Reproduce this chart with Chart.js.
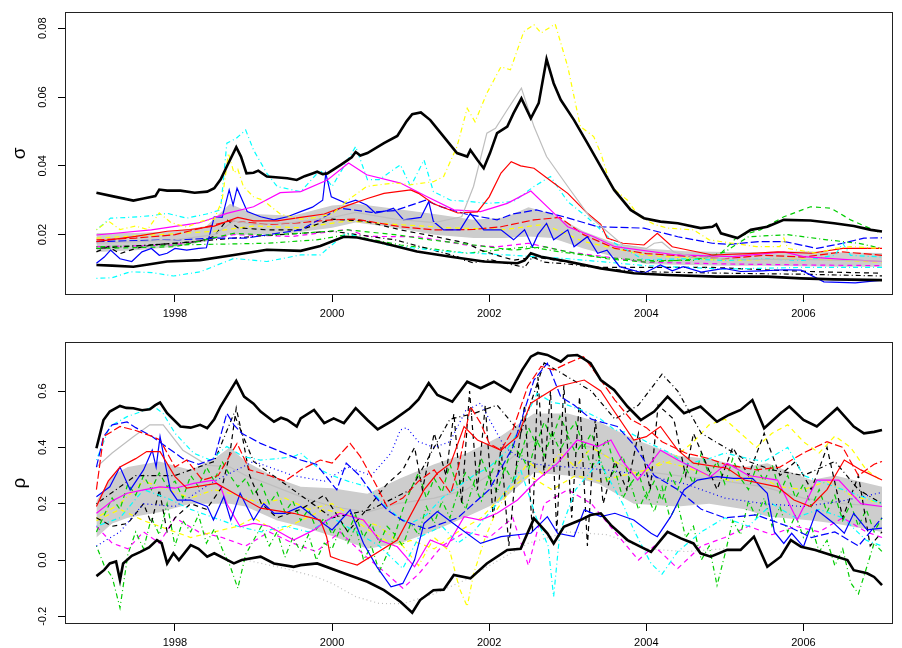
<!DOCTYPE html>
<html>
<head>
<meta charset="utf-8">
<script src="https://cdn.jsdelivr.net/npm/chart.js@4.4.1/dist/chart.umd.min.js"></script>
<style>
  body { margin: 0; background: #fff; }
  .panel { position: absolute; left: 0; width: 902px; height: 324px; }
</style>
</head>
<body>
<div class="panel" style="top:0"><canvas id="sigma" width="902" height="324"></canvas></div>
<div class="panel" style="top:324px"><canvas id="rho" width="902" height="324"></canvas></div>
<script>
// ---- axes ----
const yearTicks = [1998, 2000, 2002, 2004, 2006];
const sigmaTicks = [0.02, 0.04, 0.06, 0.08];
const sigmaTickLabels = ['0.02', '0.04', '0.06', '0.08'];
const rhoTicks = [-0.2, 0, 0.2, 0.4, 0.6];
const rhoTickLabels = ['-0.2', '0.0', '0.2', '0.4', '0.6'];

// ---- top panel: sigma, [year, value] ----
const sigHi = [[1997.0,.0322],[1997.2,.0312],[1997.47,.0299],[1997.6,.0305],[1997.75,.0312],[1997.8,.0331],[1997.9,.0328],[1998.07,.0328],[1998.25,.0322],[1998.41,.0325],[1998.5,.0335],[1998.58,.0360],[1998.66,.0398],[1998.78,.0454],[1998.84,.0427],[1998.91,.0378],[1999.0,.0380],[1999.06,.0386],[1999.17,.0369],[1999.43,.0364],[1999.55,.0359],[1999.65,.0370],[1999.75,.0378],[1999.81,.0383],[1999.88,.0376],[1999.94,.0378],[2000.11,.0403],[2000.25,.0425],[2000.30,.0440],[2000.36,.0430],[2000.45,.0437],[2000.66,.0466],[2000.83,.0487],[2000.95,.0530],[2001.02,.0550],[2001.13,.0555],[2001.25,.0533],[2001.42,.0485],[2001.59,.0437],[2001.72,.0427],[2001.76,.0446],[2001.85,.0417],[2001.93,.0393],[2002.01,.0437],[2002.10,.0495],[2002.23,.0514],[2002.31,.0553],[2002.41,.0596],[2002.53,.0538],[2002.63,.0582],[2002.73,.0710],[2002.82,.0640],[2002.91,.0592],[2003.08,.0533],[2003.25,.0466],[2003.42,.0398],[2003.59,.0330],[2003.80,.0272],[2003.97,.0248],[2004.18,.0238],[2004.40,.0233],[2004.69,.0219],[2004.84,.0223],[2004.89,.0230],[2004.95,.0204],[2005.16,.0190],[2005.33,.0214],[2005.54,.0223],[2005.75,.0243],[2006.09,.0241],[2006.39,.0233],[2006.64,.0225],[2006.86,.0214],[2007.0,.0209]];
const sigLo = [[1997.0,.0112],[1997.2,.0110],[1997.47,.0107],[1997.7,.0115],[1997.9,.0122],[1998.32,.0126],[1998.75,.0141],[1999.17,.0156],[1999.6,.0153],[1999.85,.0167],[2000.15,.0194],[2000.32,.0192],[2000.66,.0175],[2001.08,.0151],[2001.51,.0136],[2001.93,.0122],[2002.36,.0117],[2002.45,.0125],[2002.53,.0146],[2002.66,.0136],[2003.0,.0122],[2003.42,.0102],[2003.84,.0088],[2004.27,.0083],[2004.9,.0078],[2005.54,.0078],[2005.97,.0073],[2006.39,.0070],[2007.0,.0068]];
const sigBandYears = [1997.0,1997.5,1998.0,1998.4,1998.7,1999.0,1999.5,2000.0,2000.3,2000.8,2001.3,2001.8,2002.2,2002.5,2002.8,2003.2,2003.6,2004.0,2004.5,2005.0,2005.5,2006.0,2006.5,2007.0];
const sigBandLo = [.0150,.0155,.0165,.0180,.0200,.0200,.0205,.0220,.0235,.0220,.0200,.0190,.0190,.0195,.0190,.0160,.0135,.0115,.0112,.0110,.0110,.0108,.0107,.0107];
const sigBandHi = [.0205,.0205,.0210,.0225,.0290,.0260,.0255,.0285,.0290,.0275,.0260,.0243,.0250,.0280,.0260,.0210,.0175,.0160,.0152,.0150,.0150,.0152,.0148,.0147];
const sigGray = [[1997.0,.0175],[1997.5,.0180],[1998.0,.0185],[1998.5,.0200],[1998.75,.0240],[1999.0,.0230],[1999.5,.0235],[2000.0,.0250],[2000.3,.0265],[2000.8,.0245],[2001.3,.0235],[2001.65,.0252],[2001.8,.0340],[2001.97,.0495],[2002.08,.0509],[2002.23,.0563],[2002.41,.0626],[2002.57,.0514],[2002.73,.0427],[2003.0,.0340],[2003.28,.0252],[2003.42,.0225],[2003.7,.0170],[2004.0,.0160],[2004.1,.0175],[2004.2,.0178],[2004.35,.0150],[2004.6,.0135],[2005.0,.0130],[2005.5,.0128],[2006.0,.0128],[2006.5,.0125],[2007.0,.0123]];
const sigYellow = [[1997.0,.0214],[1997.15,.0240],[1997.3,.0215],[1997.5,.0225],[1997.65,.0215],[1997.8,.0263],[1997.95,.0235],[1998.15,.0222],[1998.35,.0240],[1998.5,.0245],[1998.6,.0300],[1998.68,.0437],[1998.75,.0380],[1998.8,.0390],[1998.87,.0340],[1999.0,.0310],[1999.12,.0300],[1999.34,.0260],[1999.6,.0245],[1999.8,.0250],[2000.0,.0260],[2000.2,.0300],[2000.44,.0340],[2000.6,.0345],[2000.8,.0350],[2001.0,.0345],[2001.29,.0354],[2001.42,.0369],[2001.59,.0456],[2001.72,.0567],[2001.82,.0528],[2001.97,.0611],[2002.15,.0688],[2002.27,.0679],[2002.44,.0790],[2002.57,.0810],[2002.66,.0786],[2002.84,.0812],[2003.0,.0688],[2003.16,.0514],[2003.33,.0485],[2003.42,.0437],[2003.55,.0340],[2003.76,.0300],[2003.9,.0255],[2004.1,.0230],[2004.27,.0219],[2004.6,.0214],[2004.8,.0185],[2005.1,.0175],[2005.4,.0165],[2005.7,.0165],[2005.75,.0190],[2005.8,.0160],[2006.17,.0146],[2006.4,.0160],[2006.6,.0165],[2007.0,.0160]];
const sigRed = [[1997.0,.0180],[1997.5,.0195],[1997.9,.0210],[1998.2,.0215],[1998.5,.0225],[1998.8,.0250],[1999.0,.0240],[1999.3,.0240],[1999.6,.0250],[1999.9,.0260],[2000.2,.0285],[2000.45,.0305],[2000.66,.0320],[2001.0,.0330],[2001.1,.0320],[2001.29,.0290],[2001.6,.0263],[2001.85,.0266],[2002.0,.0310],[2002.15,.0379],[2002.28,.0412],[2002.4,.0400],[2002.57,.0393],[2002.82,.0350],[2003.0,.0320],[2003.25,.0262],[2003.42,.0230],[2003.5,.0190],[2003.7,.0175],[2003.97,.0170],[2004.14,.0204],[2004.33,.0165],[2004.84,.0141],[2005.3,.0145],[2005.67,.0150],[2006.1,.0146],[2006.5,.0160],[2007.0,.0160]];
const sigMagenta = [[1997.0,.0199],[1997.7,.0214],[1998.3,.0234],[1998.66,.0262],[1999.0,.0281],[1999.34,.0322],[1999.6,.0325],[1999.94,.0359],[2000.21,.0408],[2000.44,.0374],[2000.87,.0350],[2001.21,.0310],[2001.55,.0272],[2001.89,.0267],[2002.23,.0291],[2002.53,.0327],[2002.78,.0272],[2003.0,.0223],[2003.33,.0194],[2003.6,.0165],[2004.39,.0141],[2005.1,.0136],[2005.75,.0150],[2006.0,.0136],[2006.5,.0128],[2007.0,.0122]];
const sigBlue = [[1997.0,.0117],[1997.1,.0135],[1997.18,.0155],[1997.3,.0130],[1997.45,.0122],[1997.58,.0150],[1997.7,.0160],[1997.8,.0140],[1997.9,.0146],[1998.0,.0160],[1998.15,.0155],[1998.3,.0160],[1998.4,.0162],[1998.5,.0252],[1998.6,.0250],[1998.69,.0330],[1998.74,.0286],[1998.79,.0335],[1998.92,.0267],[1999.09,.0252],[1999.26,.0243],[1999.43,.0252],[1999.6,.0267],[1999.75,.0280],[1999.88,.0300],[1999.92,.0378],[1999.99,.0310],[2000.18,.0291],[2000.3,.0300],[2000.44,.0286],[2000.55,.0263],[2000.7,.0270],[2000.78,.0277],[2000.91,.0243],[2001.13,.0250],[2001.23,.0296],[2001.29,.0238],[2001.42,.0214],[2001.63,.0214],[2001.76,.0262],[2001.93,.0214],[2002.15,.0214],[2002.31,.0185],[2002.45,.0214],[2002.55,.0165],[2002.62,.0200],[2002.73,.0233],[2002.82,.0185],[2003.0,.0214],[2003.08,.0165],[2003.25,.0194],[2003.38,.0146],[2003.5,.0155],[2003.66,.0107],[2003.97,.0088],[2004.18,.0112],[2004.33,.0095],[2004.47,.0107],[2004.7,.0091],[2004.99,.0102],[2005.2,.0093],[2005.47,.0095],[2005.76,.0098],[2005.97,.0097],[2006.26,.0063],[2006.66,.0060],[2007.0,.0068]];
const sigCyanHi = [[1997.0,.0214],[1997.18,.0248],[1997.4,.0250],[1997.7,.0255],[1997.9,.0262],[1998.15,.0248],[1998.4,.0260],[1998.58,.0272],[1998.66,.0466],[1998.78,.0480],[1998.9,.0504],[1999.0,.0446],[1999.17,.0378],[1999.3,.0340],[1999.5,.0330],[1999.6,.0325],[1999.85,.0388],[2000.0,.0340],[2000.3,.0456],[2000.45,.0360],[2000.6,.0360],[2000.87,.0403],[2001.0,.0340],[2001.17,.0417],[2001.29,.0325],[2001.51,.0300],[2001.72,.0297],[2001.97,.0291],[2002.31,.0296],[2002.57,.0340],[2002.78,.0369],[2003.0,.0296],[2003.25,.0250],[2003.42,.0214],[2003.6,.0175],[2003.97,.0127],[2004.5,.0130],[2005.0,.0125],[2005.5,.0130],[2006.0,.0125],[2006.4,.0140],[2006.5,.0175],[2006.6,.0140],[2007.0,.0135]];
const sigCyanLo = [[1997.0,.0073],[1997.2,.0075],[1997.43,.0092],[1997.7,.0090],[1997.98,.0080],[1998.32,.0092],[1998.75,.0131],[1999.17,.0122],[1999.6,.0141],[1999.85,.0141],[1999.97,.0165],[2000.18,.0204],[2000.7,.0170],[2001.5,.0150],[2002.3,.0140],[2003.0,.0130],[2004.0,.0110],[2005.0,.0100],[2006.0,.0105],[2007.0,.0105]];
const sigGreenDash = [[1997.0,.0160],[1998.0,.0165],[1998.75,.0204],[1999.17,.0199],[1999.6,.0204],[2000.2,.0214],[2000.8,.0200],[2001.25,.0185],[2001.8,.0170],[2002.31,.0155],[2002.7,.0165],[2003.0,.0150],[2003.5,.0130],[2004.0,.0120],[2004.7,.0130],[2004.95,.0146],[2005.16,.0194],[2005.45,.0214],[2005.75,.0252],[2006.09,.0281],[2006.35,.0277],[2006.6,.0243],[2006.94,.0209],[2007.0,.0208]];
const sigBlueDash = [[1997.0,.0180],[1998.0,.0185],[1998.55,.0190],[1998.9,.0190],[1999.6,.0214],[2000.1,.0277],[2000.5,.0265],[2000.8,.0270],[2001.19,.0300],[2001.4,.0280],[2001.7,.0260],[2002.1,.0243],[2002.3,.0260],[2002.6,.0272],[2002.95,.0252],[2003.38,.0223],[2003.97,.0219],[2004.4,.0194],[2004.84,.0175],[2005.06,.0172],[2005.45,.0180],[2005.76,.0180],[2006.17,.0160],[2006.5,.0175],[2006.77,.0190],[2007.0,.0191]];
const sigRedDash = [[1997.0,.0185],[1997.5,.0190],[1998.0,.0200],[1998.7,.0240],[1999.2,.0230],[1999.6,.0235],[2000.0,.0243],[2000.3,.0245],[2000.87,.0223],[2001.3,.0214],[2001.8,.0215],[2002.15,.0223],[2002.57,.0243],[2002.9,.0250],[2003.2,.0200],[2003.6,.0160],[2004.0,.0145],[2005.0,.0130],[2005.5,.0140],[2006.0,.0135],[2006.5,.0150],[2007.0,.0140]];
const sigBlackDash = [[1997.0,.0150],[1997.15,.0165],[1997.3,.0145],[1997.5,.0160],[1997.7,.0170],[1998.0,.0175],[1998.3,.0180],[1998.5,.0195],[1998.66,.0243],[1998.8,.0220],[1999.17,.0214],[1999.6,.0214],[2000.0,.0245],[2000.4,.0240],[2000.87,.0214],[2001.3,.0195],[2001.72,.0175],[2001.89,.0155],[2002.1,.0140],[2002.31,.0126],[2002.6,.0135],[2003.0,.0120],[2003.4,.0105],[2004.0,.0105],[2004.84,.0105],[2005.5,.0098],[2006.2,.0092],[2007.0,.0088]];
const sigBlackDD = [[1997.0,.0160],[1998.0,.0175],[1999.0,.0195],[2000.0,.0210],[2000.8,.0185],[2001.29,.0155],[2001.6,.0136],[2001.68,.0126],[2001.8,.0118],[2002.0,.0128],[2002.31,.0112],[2002.45,.0105],[2002.55,.0135],[2002.7,.0120],[2003.0,.0115],[2003.5,.0100],[2004.0,.0092],[2005.0,.0088],[2006.0,.0085],[2007.0,.0080]];
const sigGreenDD = [[1997.0,.0165],[1998.0,.0170],[1999.17,.0175],[1999.8,.0185],[2000.2,.0200],[2000.87,.0170],[2001.72,.0146],[2002.5,.0165],[2002.9,.0150],[2003.4,.0135],[2004.0,.0125],[2004.6,.0125],[2005.0,.0150],[2005.3,.0194],[2005.8,.0200],[2006.3,.0185],[2006.7,.0175],[2007.0,.0160]];
const sigMagentaDash = [[1997.0,.0165],[1998.0,.0170],[1998.75,.0200],[1999.5,.0195],[2000.2,.0215],[2000.45,.0195],[2001.1,.0194],[2001.7,.0170],[2002.1,.0165],[2002.5,.0175],[2003.0,.0150],[2004.0,.0120],[2005.0,.0115],[2006.0,.0112],[2007.0,.0110]];
const sigYellowDash = [[1997.0,.0190],[1997.8,.0200],[1998.5,.0210],[1999.0,.0225],[1999.6,.0220],[2000.2,.0240],[2000.8,.0230],[2001.5,.0220],[2002.2,.0215],[2002.7,.0230],[2003.2,.0180],[2004.0,.0140],[2005.0,.0125],[2006.0,.0130],[2007.0,.0120]];

// ---- bottom panel: rho, [year, value] ----
const rhoHi = [[1997.0,.397],[1997.09,.497],[1997.17,.527],[1997.3,.547],[1997.38,.540],[1997.47,.539],[1997.58,.532],[1997.68,.535],[1997.75,.550],[1997.81,.559],[1997.9,.521],[1998.07,.474],[1998.2,.470],[1998.32,.480],[1998.41,.468],[1998.5,.500],[1998.58,.545],[1998.71,.604],[1998.78,.636],[1998.88,.580],[1999.0,.555],[1999.09,.527],[1999.26,.491],[1999.35,.505],[1999.43,.497],[1999.55,.474],[1999.6,.503],[1999.77,.533],[1999.9,.486],[2000.02,.503],[2000.15,.486],[2000.3,.539],[2000.45,.497],[2000.58,.464],[2000.78,.497],[2000.99,.539],[2001.1,.570],[2001.23,.628],[2001.34,.586],[2001.53,.562],[2001.72,.633],[2001.89,.610],[2002.06,.633],[2002.27,.598],[2002.42,.675],[2002.53,.722],[2002.62,.735],[2002.74,.728],[2002.91,.704],[2003.0,.725],[2003.12,.728],[2003.2,.715],[2003.29,.699],[2003.42,.639],[2003.59,.604],[2003.76,.545],[2003.93,.497],[2004.1,.527],[2004.27,.580],[2004.48,.521],[2004.69,.545],[2004.9,.491],[2005.05,.515],[2005.2,.533],[2005.35,.568],[2005.5,.468],[2005.71,.521],[2005.82,.545],[2006.0,.497],[2006.17,.474],[2006.43,.539],[2006.64,.474],[2006.77,.450],[2006.9,.455],[2007.0,.462]];
const rhoLo = [[1997.0,-.057],[1997.1,-.035],[1997.17,-.012],[1997.25,-.005],[1997.3,-.071],[1997.34,-.012],[1997.45,.015],[1997.56,.029],[1997.67,.045],[1997.77,.071],[1997.83,.060],[1997.9,-.012],[1997.98,.024],[1998.05,.000],[1998.2,.053],[1998.3,.040],[1998.41,.012],[1998.5,.024],[1998.75,-.012],[1998.85,.000],[1999.09,.012],[1999.26,-.012],[1999.51,-.024],[1999.6,-.018],[1999.81,-.012],[2000.15,-.047],[2000.45,-.077],[2000.66,-.107],[2000.87,-.148],[2001.02,-.187],[2001.12,-.142],[2001.29,-.107],[2001.42,-.105],[2001.55,-.053],[2001.76,-.065],[2001.97,-.012],[2002.23,.036],[2002.4,.040],[2002.57,.148],[2002.74,.095],[2002.82,.059],[2002.95,.118],[2003.16,.142],[2003.29,.160],[2003.42,.166],[2003.55,.124],[2003.76,.071],[2003.93,.047],[2004.06,.029],[2004.27,.100],[2004.44,.077],[2004.6,.059],[2004.69,.024],[2004.82,.012],[2005.03,.036],[2005.2,.036],[2005.37,.083],[2005.54,-.024],[2005.71,.012],[2005.84,.071],[2005.97,.047],[2006.15,.036],[2006.35,.018],[2006.56,.000],[2006.64,-.036],[2006.81,-.047],[2006.9,-.060],[2007.0,-.089]];
const rhoBandYears = [1997.0,1997.2,1997.4,1997.8,1998.2,1998.5,1998.7,1998.9,1999.3,1999.6,2000.0,2000.45,2000.87,2001.3,2001.72,2002.15,2002.57,2003.0,2003.4,2003.84,2004.4,2004.8,2005.25,2005.54,2006.1,2006.4,2007.0];
const rhoBandLo = [.08,.13,.15,.17,.20,.20,.20,.19,.14,.12,.085,.04,.06,.105,.155,.21,.31,.30,.27,.20,.19,.20,.18,.155,.14,.13,.10];
const rhoBandHi = [.21,.30,.33,.35,.32,.36,.40,.35,.29,.26,.255,.235,.29,.34,.38,.44,.52,.52,.49,.43,.37,.36,.33,.344,.284,.30,.26];
const rhoGray = [[1997.0,.330],[1997.2,.380],[1997.47,.438],[1997.68,.480],[1997.85,.480],[1998.1,.390],[1998.41,.337],[1998.7,.330],[1998.9,.300],[1999.17,.272],[1999.6,.225],[2000.0,.190],[2000.45,.170],[2000.83,.200],[2001.3,.220],[2001.7,.249],[2002.1,.320],[2002.53,.420],[2002.9,.420],[2003.3,.400],[2003.8,.320],[2004.4,.300],[2005.0,.280],[2005.5,.260],[2006.0,.220],[2006.5,.200],[2007.0,.190]];
const rhoGrayDot = [[1998.9,.000],[1999.4,-.030],[1999.8,-.060],[2000.0,-.083],[2000.3,-.130],[2000.6,-.154],[2000.9,-.155],[2001.3,-.120],[2001.7,-.070],[2002.0,-.020],[2002.5,.060],[2003.0,.100],[2003.5,.090],[2004.0,.040],[2004.5,.030],[2005.0,.040]];
const rhoRed = [[1997.0,.190],[1997.15,.280],[1997.3,.330],[1997.5,.360],[1997.64,.385],[1997.81,.385],[1998.0,.296],[1998.15,.255],[1998.53,.272],[1998.79,.231],[1999.09,.184],[1999.51,.166],[1999.85,.142],[1999.93,.083],[1999.98,.012],[2000.1,.000],[2000.32,-.018],[2000.83,.071],[2001.17,.249],[2001.34,.308],[2001.51,.344],[2001.68,.474],[2001.85,.426],[2002.15,.390],[2002.36,.438],[2002.53,.557],[2002.87,.616],[2003.21,.639],[2003.42,.600],[2003.55,.545],[2003.84,.426],[2004.0,.438],[2004.18,.474],[2004.4,.390],[2004.6,.344],[2005.03,.326],[2005.25,.284],[2005.67,.260],[2005.88,.213],[2006.09,.190],[2006.3,.250],[2006.52,.355],[2006.73,.320],[2007.0,.284]];
const rhoRedDash = [[1997.0,.250],[1997.09,.438],[1997.3,.474],[1997.5,.460],[1997.7,.440],[1997.81,.426],[1998.0,.330],[1998.15,.355],[1998.35,.284],[1998.55,.300],[1998.79,.414],[1998.95,.320],[1999.2,.300],[1999.4,.280],[1999.6,.320],[1999.85,.355],[2000.0,.344],[2000.23,.414],[2000.36,.367],[2000.55,.272],[2000.7,.190],[2000.9,.220],[2001.1,.280],[2001.3,.320],[2001.51,.237],[2001.62,.344],[2001.76,.545],[2001.89,.486],[2002.0,.414],[2002.15,.390],[2002.3,.462],[2002.49,.616],[2002.66,.687],[2002.82,.675],[2003.0,.699],[2003.2,.722],[2003.42,.639],[2003.6,.568],[2003.8,.500],[2004.0,.470],[2004.2,.420],[2004.5,.380],[2004.8,.360],[2005.0,.340],[2005.4,.320],[2005.7,.330],[2006.0,.380],[2006.3,.420],[2006.5,.400],[2006.7,.300],[2006.9,.340],[2007.0,.350]];
const rhoBlue = [[1997.0,.225],[1997.17,.260],[1997.3,.330],[1997.43,.249],[1997.6,.320],[1997.71,.390],[1997.76,.330],[1997.81,.438],[1997.94,.249],[1998.03,.213],[1998.2,.213],[1998.41,.190],[1998.49,.142],[1998.62,.225],[1998.71,.142],[1998.83,.237],[1999.0,.142],[1999.13,.200],[1999.26,.166],[1999.4,.166],[1999.6,.190],[1999.77,.154],[2000.0,.107],[2000.23,.178],[2000.4,.059],[2000.57,-.024],[2000.75,-.095],[2000.9,-.083],[2001.05,.000],[2001.17,.130],[2001.34,.172],[2001.6,.118],[2001.89,.059],[2002.15,.083],[2002.53,.095],[2002.74,.154],[2002.87,.095],[2003.08,.083],[2003.21,.178],[2003.42,.154],[2003.6,.166],[2003.84,.142],[2004.06,.095],[2004.14,.083],[2004.31,.154],[2004.48,.249],[2004.65,.284],[2004.9,.296],[2005.11,.290],[2005.35,.290],[2005.54,.237],[2005.63,.100],[2005.75,.059],[2005.85,.095],[2006.0,.047],[2006.17,.178],[2006.39,.130],[2006.52,.095],[2006.64,.166],[2006.81,.107],[2007.0,.113]];
const rhoBlueDash = [[1997.0,.330],[1997.09,.438],[1997.2,.480],[1997.39,.490],[1997.5,.470],[1997.7,.440],[1997.9,.400],[1998.1,.360],[1998.3,.340],[1998.5,.360],[1998.66,.521],[1998.75,.480],[1998.85,.450],[1999.09,.414],[1999.3,.390],[1999.6,.355],[1999.8,.340],[2000.06,.249],[2000.18,.344],[2000.35,.300],[2000.5,.240],[2000.7,.178],[2000.9,.140],[2001.2,.110],[2001.6,.150],[2002.0,.250],[2002.3,.400],[2002.57,.639],[2002.74,.699],[2002.91,.580],[2003.08,.550],[2003.3,.500],[2003.63,.474],[2003.84,.410],[2004.1,.300],[2004.4,.250],[2004.7,.180],[2005.0,.150],[2005.4,.160],[2005.8,.120],[2006.1,.080],[2006.4,.100],[2006.7,.050],[2007.0,.150]];
const rhoBlueDot = [[1997.0,.050],[1997.3,.100],[1997.6,.200],[1998.0,.190],[1998.5,.280],[1999.0,.350],[1999.5,.300],[1999.9,.280],[2000.2,.330],[2000.5,.300],[2000.75,.380],[2000.87,.462],[2000.95,.470],[2001.1,.420],[2001.3,.400],[2001.5,.420],[2001.7,.530],[2001.89,.557],[2002.0,.500],[2002.2,.400],[2002.4,.360],[2002.6,.340],[2003.0,.330],[2003.5,.320],[2004.0,.300],[2004.5,.270],[2005.0,.220],[2005.5,.200],[2006.0,.190],[2006.5,.210],[2007.0,.240]];
const rhoCyanHi = [[1997.0,.355],[1997.17,.474],[1997.39,.509],[1997.6,.530],[1997.73,.545],[1997.85,.520],[1998.0,.450],[1998.24,.379],[1998.45,.355],[1998.66,.403],[1998.87,.367],[1999.09,.355],[1999.3,.360],[1999.51,.367],[1999.6,.379],[1999.85,.320],[2000.0,.300],[2000.2,.280],[2000.45,.260],[2000.65,.200],[2000.85,.150],[2001.0,.130],[2001.2,.160],[2001.4,.220],[2001.6,.260],[2001.8,.300],[2002.0,.330],[2002.2,.380],[2002.4,.470],[2002.61,.592],[2002.8,.560],[2003.0,.550],[2003.2,.530],[2003.42,.500],[2003.6,.462],[2003.8,.450],[2004.0,.420],[2004.3,.380],[2004.5,.340],[2004.8,.360],[2005.0,.380],[2005.3,.360],[2005.5,.350],[2005.8,.400],[2006.0,.300],[2006.3,.270],[2006.5,.250],[2006.8,.220],[2007.0,.200]];
const rhoCyanLo = [[1997.0,.120],[1997.3,.150],[1997.6,.250],[1997.9,.220],[1998.2,.180],[1998.5,.150],[1998.8,.120],[1999.1,.100],[1999.4,.120],[1999.7,.100],[2000.0,.150],[2000.3,.100],[2000.6,.050],[2000.9,-.030],[2001.1,.080],[2001.4,.120],[2001.6,.060],[2001.8,.100],[2002.1,.200],[2002.4,.320],[2002.6,.150],[2002.75,.050],[2002.82,-.130],[2002.9,.100],[2003.1,.250],[2003.4,.350],[2003.7,.200],[2003.84,.107],[2004.06,-.012],[2004.2,-.050],[2004.4,.030],[2004.7,.100],[2005.0,.150],[2005.3,.120],[2005.6,.200],[2005.9,.150],[2006.2,.180],[2006.5,.150],[2006.8,.070],[2007.0,.050]];
const rhoMagenta = [[1997.0,.166],[1997.2,.210],[1997.39,.237],[1997.6,.249],[1997.81,.260],[1998.0,.255],[1998.24,.272],[1998.49,.284],[1998.58,.260],[1998.66,.200],[1998.83,.118],[1999.0,.130],[1999.2,.120],[1999.51,.071],[1999.77,.107],[1999.94,.142],[2000.1,.166],[2000.4,.142],[2000.6,.071],[2000.83,.047],[2001.05,-.024],[2001.25,.071],[2001.46,.047],[2001.68,.154],[2001.89,.142],[2002.1,.166],[2002.36,.213],[2002.61,.284],[2002.87,.344],[2003.12,.426],[2003.38,.403],[2003.55,.426],[2003.7,.350],[2003.89,.284],[2004.18,.390],[2004.4,.355],[2004.82,.296],[2005.03,.344],[2005.3,.300],[2005.67,.284],[2005.92,.142],[2006.17,.284],[2006.45,.284],[2006.73,.200],[2007.0,.190]];
const rhoMagentaDash = [[1997.0,.120],[1997.2,.060],[1997.4,.040],[1997.6,.100],[1997.8,.060],[1998.0,.150],[1998.3,.100],[1998.6,.080],[1998.9,.050],[1999.2,.100],[1999.5,.060],[1999.8,.030],[2000.1,.100],[2000.4,.020],[2000.7,-.050],[2000.9,-.100],[2001.1,-.050],[2001.4,.050],[2001.7,.100],[2002.0,.080],[2002.3,.150],[2002.5,-.020],[2002.7,.200],[2003.0,.250],[2003.3,.200],[2003.6,.100],[2003.9,.000],[2004.1,.050],[2004.4,-.030],[2004.7,.050],[2005.0,.080],[2005.3,.120],[2005.6,.090],[2005.9,.120],[2006.2,.100],[2006.5,.150],[2006.8,.100],[2007.0,.080]];
const rhoGreenDD = [[1997.0,.05],[1997.1,-.02],[1997.2,-.06],[1997.3,-.17],[1997.4,.02],[1997.5,.10],[1997.6,.04],[1997.7,.15],[1997.8,.09],[1997.9,.20],
  [1998.0,.05],[1998.1,.14],[1998.2,.10],[1998.3,.16],[1998.4,.06],[1998.5,.11],[1998.6,.04],[1998.7,-.02],[1998.8,-.10],[1998.9,.02],
  [1999.0,.07],[1999.1,.12],[1999.2,.05],[1999.3,.10],[1999.4,.01],[1999.5,.08],[1999.6,.03],[1999.7,.09],[1999.8,.00],[1999.9,.06],
  [2000.0,.04],[2000.1,.11],[2000.2,.06],[2000.3,.12],[2000.4,.00],[2000.5,.05],[2000.6,-.04],[2000.7,.02],[2000.8,.09],[2000.9,.05],
  [2001.0,.13],[2001.1,.09],[2001.2,.19],[2001.3,.13],[2001.4,.21],[2001.5,.15],[2001.6,.24],[2001.7,.18],[2001.8,.27],[2001.9,.21],
  [2002.0,.30],[2002.1,.24],[2002.2,.33],[2002.3,.28],[2002.4,.38],[2002.5,.32],[2002.6,.43],[2002.7,.37],[2002.8,.45],[2002.9,.39],
  [2003.0,.44],[2003.1,.38],[2003.2,.42],[2003.3,.33],[2003.4,.37],[2003.5,.28],[2003.6,.32],[2003.7,.22],[2003.8,.27],[2003.9,.18],
  [2004.0,.24],[2004.1,.17],[2004.2,.26],[2004.3,.15],[2004.4,.20],[2004.5,.08],[2004.6,.12],[2004.7,.00],[2004.8,.05],[2004.9,-.09],
  [2005.0,.02],[2005.1,.14],[2005.2,.09],[2005.3,.21],[2005.4,.15],[2005.5,.22],[2005.6,.12],[2005.7,.19],[2005.8,.10],[2005.9,.16],
  [2006.0,.08],[2006.1,.12],[2006.2,.03],[2006.3,.07],[2006.4,-.02],[2006.5,.04],[2006.6,-.08],[2006.7,-.12],[2006.8,-.03],[2006.9,.06],[2007.0,.03]];
const rhoGreenDash = [[1997.0,.10],[1997.1,.16],[1997.2,.22],[1997.3,.18],[1997.4,.27],[1997.5,.23],[1997.6,.30],[1997.7,.25],[1997.8,.31],[1997.9,.26],
  [1998.0,.28],[1998.1,.22],[1998.2,.30],[1998.3,.26],[1998.4,.33],[1998.5,.28],[1998.6,.35],[1998.7,.30],[1998.8,.26],[1998.9,.29],
  [1999.0,.23],[1999.1,.27],[1999.2,.20],[1999.3,.24],[1999.4,.17],[1999.5,.21],[1999.6,.14],[1999.7,.18],[1999.8,.11],[1999.9,.15],
  [2000.0,.09],[2000.1,.14],[2000.2,.10],[2000.3,.16],[2000.4,.08],[2000.5,.13],[2000.6,.06],[2000.7,.12],[2000.8,.09],[2000.9,.18],
  [2001.0,.25],[2001.1,.31],[2001.2,.22],[2001.3,.29],[2001.4,.24],[2001.5,.34],[2001.6,.26],[2001.7,.31],[2001.8,.27],[2001.9,.36],
  [2002.0,.29],[2002.1,.36],[2002.2,.32],[2002.3,.41],[2002.4,.37],[2002.5,.47],[2002.6,.41],[2002.7,.49],[2002.8,.43],[2002.9,.51],
  [2003.0,.45],[2003.1,.49],[2003.2,.40],[2003.3,.45],[2003.4,.38],[2003.5,.43],[2003.6,.33],[2003.7,.37],[2003.8,.27],[2003.9,.31],
  [2004.0,.22],[2004.1,.28],[2004.2,.21],[2004.3,.31],[2004.4,.25],[2004.5,.33],[2004.6,.27],[2004.7,.38],[2004.8,.30],[2004.9,.35],
  [2005.0,.27],[2005.1,.36],[2005.2,.29],[2005.3,.25],[2005.4,.33],[2005.5,.28],[2005.6,.34],[2005.7,.24],[2005.8,.30],[2005.9,.22],
  [2006.0,.27],[2006.1,.19],[2006.2,.25],[2006.3,.17],[2006.4,.23],[2006.5,.14],[2006.6,.20],[2006.7,.12],[2006.8,.18],[2006.9,.10],[2007.0,.15]];
const rhoYellowDD = [[1997.0,.150],[1997.3,.200],[1997.6,.280],[1997.9,.250],[1998.2,.220],[1998.5,.250],[1998.8,.230],[1999.1,.200],[1999.4,.220],[1999.7,.180],[2000.0,.200],[2000.3,.150],[2000.6,.120],[2000.9,.050],[2001.1,-.020],[2001.3,.080],[2001.5,.030],[2001.62,-.100],[2001.72,-.165],[2001.8,-.050],[2001.95,.080],[2002.1,.180],[2002.3,.260],[2002.5,.350],[2002.7,.300],[2002.9,.380],[2003.1,.330],[2003.3,.400],[2003.6,.350],[2003.9,.300],[2004.2,.350],[2004.5,.330],[2004.8,.300],[2005.1,.280],[2005.4,.300],[2005.7,.260],[2006.0,.250],[2006.3,.280],[2006.6,.230],[2007.0,.200]];
const rhoYellowDash = [[1997.0,.140],[1997.3,.180],[1997.6,.140],[1997.9,.110],[1998.2,.080],[1998.5,.100],[1998.8,.120],[1999.0,.150],[1999.3,.100],[1999.6,.140],[1999.9,.180],[2000.2,.160],[2000.5,.100],[2000.8,.050],[2001.0,.070],[2001.3,.040],[2001.6,.100],[2001.9,.150],[2002.2,.240],[2002.5,.300],[2002.8,.250],[2003.1,.300],[2003.4,.280],[2003.7,.300],[2004.0,.320],[2004.3,.350],[2004.6,.420],[2004.8,.480],[2005.0,.500],[2005.2,.450],[2005.4,.400],[2005.6,.450],[2005.8,.480],[2006.0,.420],[2006.2,.380],[2006.4,.440],[2006.6,.400],[2006.8,.320],[2007.0,.280]];
const rhoBlackDash = [[1997.0,.150],[1997.2,.120],[1997.4,.130],[1997.6,.200],[1997.7,.130],[1997.8,.250],[1997.9,.100],[1998.0,.150],[1998.2,.200],[1998.4,.180],[1998.6,.260],[1998.7,.380],[1998.78,.540],[1998.85,.450],[1998.95,.300],[1999.1,.200],[1999.3,.150],[1999.6,.180],[1999.9,.230],[2000.2,.100],[2000.5,.200],[2000.7,.270],[2000.9,.320],[2001.05,.400],[2001.15,.250],[2001.3,.450],[2001.45,.300],[2001.55,.520],[2001.65,.200],[2001.75,.600],[2001.85,.250],[2001.95,.550],[2002.05,.150],[2002.15,.400],[2002.25,.050],[2002.35,.350],[2002.45,.550],[2002.55,.100],[2002.62,.650],[2002.7,.300],[2002.78,.600],[2002.86,.100],[2002.95,.620],[2003.05,.150],[2003.15,.580],[2003.25,.050],[2003.35,.500],[2003.45,.200],[2003.6,.350],[2003.75,.250],[2003.9,.450],[2004.05,.250],[2004.15,.550],[2004.35,.500],[2004.5,.300],[2004.6,.450],[2004.75,.350],[2004.9,.250],[2005.1,.400],[2005.3,.300],[2005.5,.450],[2005.7,.300],[2005.9,.350],[2006.1,.250],[2006.3,.400],[2006.5,.150],[2006.7,.300],[2006.85,.050],[2007.0,.100]];
const rhoBlackDD = [[1997.0,.200],[1997.5,.300],[1998.0,.300],[1998.5,.350],[1998.75,.520],[1999.0,.350],[1999.5,.250],[2000.0,.150],[2000.5,.180],[2001.0,.250],[2001.5,.500],[2001.8,.520],[2002.1,.550],[2002.4,.450],[2002.7,.700],[2003.0,.650],[2003.3,.600],[2003.6,.500],[2003.9,.550],[2004.2,.660],[2004.4,.600],[2004.7,.450],[2005.0,.400],[2005.3,.350],[2005.6,.320],[2006.0,.300],[2006.4,.350],[2006.7,.250],[2007.0,.200]];

// R style line types
const SOLID = [], DASH = [5, 4], DOT = [1, 3], DOTDASH = [1, 3, 5, 3], LONGDASH = [8, 3];
const BLACK = '#000000', RED = '#FF0000', GREEN = '#00CD00', BLUE = '#0000FF',
      CYAN = '#00FFFF', MAGENTA = '#FF00FF', YELLOW = '#FFFF00', GRAY = '#BEBEBE';

const toXY = pts => pts.map(p => ({ x: p[0], y: p[1] }));

const framePlugin = {
  id: 'frame',
  afterDatasetsDraw(chart, args, opts) {
    const a = chart.chartArea, ctx = chart.ctx;
    ctx.save();
    ctx.strokeStyle = '#222';
    ctx.lineWidth = 1;
    ctx.strokeRect(a.left + 0.5, a.top + 0.5, a.right - a.left - 1, a.bottom - a.top - 1);
    ctx.restore();
  },
  afterDraw(chart, args, opts) {
    const ctx = chart.ctx, ys = chart.scales.y, a = chart.chartArea;
    ctx.save();
    ctx.fillStyle = '#000';
    ctx.textAlign = 'center';
    ctx.textBaseline = 'middle';
    ctx.font = '11px "Liberation Sans", Arial, sans-serif';
    opts.ticks.forEach((v, i) => {
      ctx.save();
      ctx.translate(43, ys.getPixelForValue(v));
      ctx.rotate(-Math.PI / 2);
      ctx.fillText(opts.labels[i], 0, 0);
      ctx.restore();
    });
    ctx.font = '19px "Liberation Sans", Arial, sans-serif';
    ctx.translate(20, (a.top + a.bottom) / 2);
    ctx.rotate(-Math.PI / 2);
    ctx.fillText(opts.title, 0, 0);
    ctx.restore();
  }
};

function panel(id, sets, bandYears, bandLo, bandHi, yMin, yMax, ticks, labels, title, padTop, xHeight) {
  const datasets = sets.map(s => ({
    data: toXY(s[0]),
    borderColor: s[1],
    borderDash: s[2],
    borderWidth: s[3] || 1.2,
    pointRadius: 0,
    fill: false,
    tension: 0,
    order: 0
  }));
  datasets.push({
    data: bandYears.map((x, i) => ({ x: x, y: bandLo[i] })),
    borderColor: 'rgba(0,0,0,0)', pointRadius: 0, fill: false, order: 10
  });
  datasets.push({
    data: bandYears.map((x, i) => ({ x: x, y: bandHi[i] })),
    borderColor: 'rgba(0,0,0,0)', backgroundColor: '#cdcdcd', pointRadius: 0, fill: '-1', order: 10
  });

  return new Chart(document.getElementById(id), {
    type: 'line',
    data: { datasets: datasets },
    plugins: [framePlugin],
    options: {
      responsive: false,
      animation: false,
      devicePixelRatio: 1,
      layout: { padding: { top: padTop, right: 9, left: 0, bottom: 0 } },
      plugins: {
        legend: { display: false },
        tooltip: { enabled: false },
        frame: { ticks: ticks, labels: labels, title: title }
      },
      scales: {
        x: {
          type: 'linear', min: 1996.6, max: 2007.14,
          afterBuildTicks: s => { s.ticks = yearTicks.map(v => ({ value: v })); },
          afterFit: s => { s.height = xHeight; },
          ticks: { font: { family: 'Liberation Sans', size: 11 }, color: '#000', padding: 5,
                   maxRotation: 0, autoSkip: false, callback: v => String(v) },
          grid: { drawOnChartArea: false, tickLength: 7, color: '#000' },
          border: { display: false }
        },
        y: {
          type: 'linear', min: yMin, max: yMax,
          afterBuildTicks: s => { s.ticks = ticks.map(v => ({ value: v })); },
          afterFit: s => { s.width = 65; },
          ticks: { display: false },
          grid: { drawOnChartArea: false, tickLength: 7, color: '#000' },
          border: { display: false }
        }
      }
    }
  });
}

panel('sigma', [
  [sigHi, BLACK, SOLID, 2.6],
  [sigLo, BLACK, SOLID, 2.6],
  [sigYellow, YELLOW, DOTDASH],
  [sigGray, GRAY, SOLID],
  [sigRed, RED, SOLID],
  [sigMagenta, MAGENTA, SOLID],
  [sigBlue, BLUE, SOLID],
  [sigCyanHi, CYAN, DOTDASH],
  [sigCyanLo, CYAN, DOTDASH],
  [sigGreenDash, GREEN, DASH],
  [sigBlueDash, BLUE, LONGDASH],
  [sigRedDash, RED, LONGDASH],
  [sigBlackDash, BLACK, DASH],
  [sigBlackDD, BLACK, DOTDASH],
  [sigGreenDD, GREEN, DOTDASH],
  [sigMagentaDash, MAGENTA, DASH],
  [sigYellowDash, YELLOW, DASH]
], sigBandYears, sigBandLo, sigBandHi, 0.00247, 0.0847, sigmaTicks, sigmaTickLabels, 'σ', 12, 29);

panel('rho', [
  [rhoHi, BLACK, SOLID, 2.6],
  [rhoLo, BLACK, SOLID, 2.6],
  [rhoRed, RED, SOLID],
  [rhoBlue, BLUE, SOLID],
  [rhoMagenta, MAGENTA, SOLID],
  [rhoRedDash, RED, LONGDASH],
  [rhoBlueDash, BLUE, LONGDASH],
  [rhoBlueDot, BLUE, DOT],
  [rhoCyanHi, CYAN, DOTDASH],
  [rhoCyanLo, CYAN, DOTDASH],
  [rhoBlackDash, BLACK, DASH],
  [rhoBlackDD, BLACK, DOTDASH],
  [rhoGreenDD, GREEN, DOTDASH],
  [rhoGreenDash, GREEN, DASH],
  [rhoYellowDD, YELLOW, DOTDASH],
  [rhoYellowDash, YELLOW, DASH],
  [rhoMagentaDash, MAGENTA, DASH],
  [rhoGray, GRAY, SOLID],
  [rhoGrayDot, GRAY, DOT]
], rhoBandYears, rhoBandLo, rhoBandHi, -0.227, 0.774, rhoTicks, rhoTickLabels, 'ρ', 18, 24);
</script>
</body>
</html>
